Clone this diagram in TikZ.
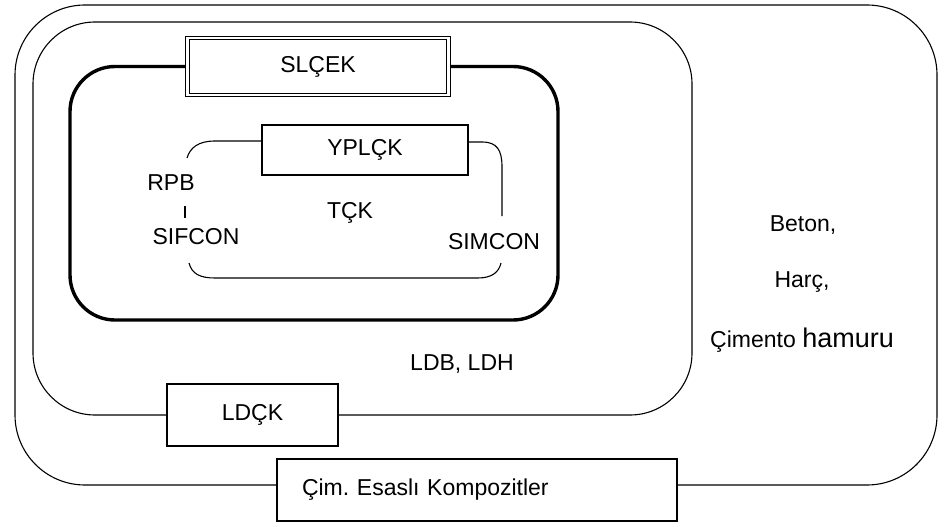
\documentclass[tikz,border=0pt]{standalone}
\usepackage{fontspec}
\setmainfont{Liberation Sans}
\usetikzlibrary{backgrounds}
\frenchspacing
\begin{document}
\begin{tikzpicture}[x=1pt,y=-1pt,
  every node/.style={font=\fontsize{23}{27}\selectfont},
  frame/.style={draw, line width=1.1pt},
  thickframe/.style={draw, line width=3.4pt},
  box/.style={draw, line width=1.1pt, fill=white, inner sep=0pt},
  lbl/.style={inner sep=0pt}]
\useasboundingbox (0,0) rectangle (947,527);
% boxes
\node[box, minimum width=261pt, minimum height=57pt, double, double distance=2.6pt, line width=0.8pt] (slcek) at (318,66.5) {SLÇEK};
\node[box, minimum width=206pt, minimum height=50pt] (ypl) at (365,150) {YPLÇK};
\node[box, minimum width=171pt, minimum height=62pt] (ldck) at (252.5,415) {LDÇK};
\node[box, minimum width=400pt, minimum height=62pt, text width=350pt, align=left, inner xsep=25pt, inner ysep=0pt] (cim) at (477,490) {Çim. Esaslı Kompozitler};
% texts
\node[lbl] (rpb) at (171,183) {RPB};
\node[lbl] (sifcon) at (196,237) {SIFCON};
\coordinate (bar1) at (185,206);
\coordinate (bar2) at (185,218);
\node[lbl] (tck) at (350,213) {TÇK};
\node[lbl] (simcon) at (494,242) {SIMCON};
\node[lbl] (ldb) at (462,364) {LDB, LDH};
\node[lbl] (beton) at (803,225) {Beton,};
\node[lbl] (harc) at (802,282) {Harç,};
\node[lbl] (cimento) at (802,340) {Çimento {\fontsize{27}{30}\selectfont hamuru}};
\begin{scope}[on background layer]
\fill[white] (0,0) rectangle (947,527);
% outer frame
\draw[frame, rounded corners=70pt] ([yshift=5pt]cim.east) -- (937,485) -- (937,5) -- (15,5) -- (15,485) -- ([yshift=5pt]cim.west);
% middle frame
\draw[frame, rounded corners=62pt] (ldck.east) -- (692,415) -- (692,22) -- (33,22) -- (33,415) -- (ldck.west);
% thick frame
\draw[thickframe, rounded corners=45pt] (slcek.east) -- (558,66.5) -- (558,320) -- (70,320) -- (70,66.5) -- (slcek.west);
\end{scope}
% inner bracket
\draw[frame] ([yshift=9pt]ypl.west) -- (215,141) .. controls (198,141) and (190,148) .. (187,158);
\draw[frame] ([yshift=8pt]ypl.east) -- (482,142) .. controls (497,142) and (502,150) .. (502,167) -- (502,216);
\draw[frame] (189,263) .. controls (192,274) and (200,278) .. (215,278) -- (478,278) .. controls (492,278) and (499,272) .. (501,263);
\draw[frame] (bar1) -- (bar2);
\end{tikzpicture}
\end{document}
